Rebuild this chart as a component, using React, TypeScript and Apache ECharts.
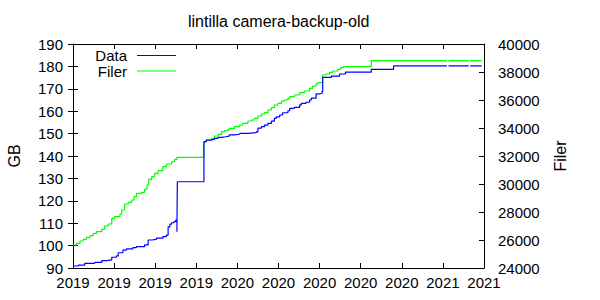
import React, { useEffect, useRef } from "react";
import * as echarts from "echarts";

// x values are days since the first tick; one tick every 70 days
const dayStep = 70;
const xTickLabels = ["2019", "2019", "2019", "2019", "2020", "2020", "2020", "2020", "2020", "2021", "2021"];

const chartTitle = "lintilla camera-backup-old";
const leftAxisName = "GB";
const rightAxisName = "Filer";
const seriesNames = ["Data", "Filer"];

// Data (GB, left axis): [day, GB]
const dataGB: (number | null)[][] = [
  [0, 90.9], [9, 91.3], [20, 92.1], [37, 92.5], [49, 93.3], [57, 93.6], [66, 94.8], [74, 95.4],
  [77, 96.8], [85, 98.0], [91, 98.5], [102, 99.1], [108, 99.5], [122, 100.3], [128, 102.5],
  [134, 102.8], [142, 103.3], [153, 104.0], [159, 104.7], [162, 108.4], [165, 109.6], [168, 110.2],
  [172, 110.7], [175, 111.4], [177, 106.2], [177.7, 128.5], [223, 146.4], [227, 147.1], [234, 147.4],
  [241, 147.9], [247, 148.3], [253, 148.6], [260, 148.9], [266, 149.4], [275, 149.7], [284, 150.1],
  [298, 150.4], [312, 150.8], [315, 152.4], [321, 153.1], [326, 153.8], [332, 154.6], [338, 155.6],
  [343, 156.8], [346, 157.5], [352, 158.3], [357, 159.3], [366, 160.2], [369, 161.3], [377, 161.7],
  [386, 162.8], [389, 163.5], [397, 164.0], [403, 165.0], [406, 165.8], [414, 167.7], [420, 168.0],
  [424, 168.7], [425.3, 175.1], [440, 175.7], [454, 176.6], [464, 177.4], [508, 178.7], [546, 180.2],
  [637, 180.2], [638, null], [639.5, 180.2], [674, 180.2], [675, null], [676.5, 180.2], [696, 180.2],
];

// Filer (file count, right axis): [day, files]
const filerCount: (number | null)[][] = [
  [0, 25643], [6, 25764], [12, 25929], [17.5, 26050], [23, 26193], [29, 26307], [34.5, 26479],
  [40, 26593], [49, 26764], [54, 27000], [60, 27143], [66, 27550], [71, 27664], [80, 27857],
  [83, 28143], [88, 28571], [94, 28693], [100, 28857], [104, 29093], [108, 29336], [117, 29407],
  [122, 29621], [126, 29929], [129, 30336], [134, 30521], [139, 30764], [145, 30950], [153, 31236],
  [159, 31429], [168, 31593], [173, 31764], [177, 31907], [223, 33021], [227, 33143], [233, 33193],
  [236, 33264], [241, 33429], [247, 33550], [253, 33736], [258, 33807], [264, 33907], [267, 33979],
  [275, 34093], [284, 34214], [289, 34336], [298, 34500], [304, 34571], [309, 34693], [315, 34857],
  [321, 35000], [326, 35093], [332, 35286], [338, 35450], [343, 35643], [349, 35764], [355, 35929],
  [360, 36000], [366, 36121], [369, 36236], [377, 36357], [386, 36521], [394, 36643], [403, 36836],
  [408, 37000], [414, 37143], [417, 37236], [425, 37786], [431, 37857], [437, 37979], [442, 38071],
  [451, 38193], [456, 38307], [460, 38379], [508, 38807], [637, 38807], [638, null], [639.5, 38807],
  [674, 38807], [675, null], [676.5, 38807], [696, 38807],
];

const gbMin = 90, gbMax = 190, gbStep = 10;
const filerMin = 24000, filerMax = 40000, filerStep = 2000;

const FONT = "'Liberation Sans', Arial, sans-serif";

export default function App() {
  const ref = useRef<HTMLDivElement>(null);
  useEffect(() => {
    if (!ref.current) return;
    const chart = echarts.init(ref.current, null, { renderer: "svg" });
    const tickCommon = {
      axisTick: { show: true, inside: true, length: 5, lineStyle: { color: "#000", width: 1 } },
      splitLine: { show: false },
    };
    chart.setOption({
      animation: false,
      backgroundColor: "#fff",
      textStyle: { fontFamily: FONT },
      title: {
        text: chartTitle,
        left: 188,
        top: 13,
        padding: 0,
        textStyle: { fontFamily: FONT, fontSize: 16, fontWeight: "normal", color: "#000" },
      },
      legend: {
        orient: "vertical",
        align: "right",
        right: 424,
        top: 48,
        padding: 0,
        itemGap: 0.5,
        itemWidth: 39,
        itemHeight: 1,
        icon: "rect",
        selectedMode: false,
        textStyle: { fontFamily: FONT, fontSize: 15, color: "#000", lineHeight: 15, padding: [0, 5, 0, 0] },
        data: seriesNames,
      },
      grid: { left: 73, right: 116, top: 44, bottom: 32, outerBoundsMode: "none", containLabel: false },
      xAxis: [
        {
          type: "value",
          position: "bottom",
          min: 0,
          max: dayStep * (xTickLabels.length - 1),
          interval: dayStep,
          axisLine: { show: true, onZero: false, lineStyle: { color: "#000", width: 1 } },
          ...tickCommon,
          axisLabel: {
            color: "#000",
            fontFamily: FONT,
            fontSize: 15,
            margin: 7,
            showMinLabel: true,
            showMaxLabel: true,
            hideOverlap: false,
            formatter: (v: number) => xTickLabels[Math.round(v / dayStep)] ?? "",
          },
        },
        {
          type: "value",
          position: "top",
          min: 0,
          max: dayStep * (xTickLabels.length - 1),
          interval: dayStep,
          axisLine: { show: true, onZero: false, lineStyle: { color: "#000", width: 1 } },
          ...tickCommon,
          axisLabel: { show: false },
        },
      ],
      yAxis: [
        {
          type: "value",
          position: "left",
          min: gbMin,
          max: gbMax,
          interval: gbStep,
          name: leftAxisName,
          nameLocation: "middle",
          nameGap: 51,
          nameMoveOverlap: false,
          nameTextStyle: { fontFamily: FONT, fontSize: 16, color: "#000" },
          axisLine: { show: true, onZero: false, lineStyle: { color: "#000", width: 1 } },
          ...tickCommon,
          axisLabel: { color: "#000", fontFamily: FONT, fontSize: 15, margin: 10, showMinLabel: true, showMaxLabel: true },
        },
        {
          type: "value",
          position: "right",
          min: filerMin,
          max: filerMax,
          interval: filerStep,
          name: rightAxisName,
          nameLocation: "middle",
          nameGap: 68,
          nameMoveOverlap: false,
          nameTextStyle: { fontFamily: FONT, fontSize: 16, color: "#000" },
          axisLine: { show: true, onZero: false, lineStyle: { color: "#000", width: 1 } },
          ...tickCommon,
          axisLabel: {
            color: "#000",
            fontFamily: FONT,
            fontSize: 15,
            margin: 14,
            showMinLabel: true,
            showMaxLabel: true,
            formatter: (v: number) => String(v),
          },
        },
        {
          // mirrored GB ticks on the right edge
          type: "value",
          position: "right",
          min: gbMin,
          max: gbMax,
          interval: gbStep,
          axisLine: { show: false },
          ...tickCommon,
          axisLabel: { show: false },
        },
      ],
      series: [
        {
          name: seriesNames[0],
          type: "line",
          xAxisIndex: 0,
          yAxisIndex: 0,
          step: "end",
          symbol: "none",
          showSymbol: false,
          connectNulls: false,
          color: "#0000ff",
          lineStyle: { color: "#0000ff", width: 1.2 },
          data: dataGB,
          z: 3,
        },
        {
          name: seriesNames[1],
          type: "line",
          xAxisIndex: 0,
          yAxisIndex: 1,
          step: "end",
          symbol: "none",
          showSymbol: false,
          connectNulls: false,
          color: "#00ff00",
          lineStyle: { color: "#00ff00", width: 1.2 },
          data: filerCount,
          z: 2,
        },
      ],
    });
    return () => chart.dispose();
  }, []);
  return (
    <div
      ref={ref}
      style={{ position: "absolute", left: 0, top: 0, width: 600, height: 300, background: "#fff" }}
    />
  );
}
